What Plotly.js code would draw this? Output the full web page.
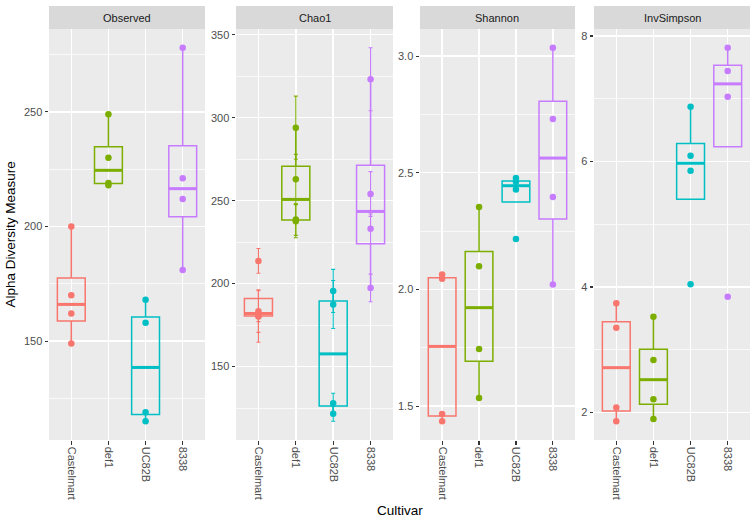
<!DOCTYPE html>
<html>
<head>
<meta charset="utf-8">
<script src="https://cdn.plot.ly/plotly-3.0.1.min.js"></script>
<style>html,body{margin:0;padding:0;background:#fff;}#chart{width:756px;height:521px;}</style>
</head>
<body>
<div id="chart"></div>
<script>
// ---- data ----
var cultivars = ['Castelmart', 'def1', 'UC82B', '8338'];
var measures = ['Observed', 'Chao1', 'Shannon', 'InvSimpson'];
var colors = ['#F8766D', '#7CAE00', '#00BFC4', '#C77CFF'];

var observed = [[149, 162, 170, 200], [218, 219, 230, 249], [115, 119, 158, 168], [181, 212, 221, 278]];
var chao1 = [[180.2, 180.6, 183.4, 213.7], [237.6, 238.6, 262.9, 294.0], [121.5, 127.9, 187.4, 195.6], [197.4, 233.0, 254.0, 323.2]];
var chao1Se = [[15.5, 3.5, 12.8, 7.5], [10, 9.5, 15, 19], [4.5, 6, 14.5, 13], [8.3, 9, 13.5, 19]];
var shannon = [[1.435, 1.466, 2.046, 2.064], [1.535, 1.745, 2.099, 2.353], [2.216, 2.428, 2.461, 2.478], [2.021, 2.396, 2.730, 3.036]];
var invSimpson = [[1.86, 2.08, 3.35, 3.74], [1.897, 2.21, 2.837, 3.527], [4.043, 5.853, 6.092, 6.873], [3.845, 7.033, 7.442, 7.814]];

var yTickStep = [50, 50, 0.5, 2];
var yTickFormat = ['d', 'd', '.1f', 'd'];

// ---- helpers ----
function quant(sorted, p) {
  var h = (sorted.length - 1) * p, lo = Math.floor(h), hi = Math.ceil(h);
  return sorted[lo] + (h - lo) * (sorted[hi] - sorted[lo]);
}
function stats(vals) {
  var s = vals.slice().sort(function (a, b) { return a - b; });
  var q1 = quant(s, 0.25), med = quant(s, 0.5), q3 = quant(s, 0.75), iqr = q3 - q1;
  var lf = Math.min.apply(null, s.filter(function (v) { return v >= q1 - 1.5 * iqr; }));
  var uf = Math.max.apply(null, s.filter(function (v) { return v <= q3 + 1.5 * iqr; }));
  lf = Math.min(lf, q1); uf = Math.max(uf, q3);
  return { q1: q1, med: med, q3: q3, lf: lf, uf: uf };
}

var W = 756, H = 521;
var panelPx = [[49, 205], [236, 393], [420, 575], [594, 750]];
var plotTop = 29, plotBot = 440, stripTop = 6;
var yDom = [1 - plotBot / H, 1 - plotTop / H];
var boxW = 0.75;

var datasets = [observed, chao1, shannon, invSimpson];
var traces = [];
var layout = {
  width: W, height: H,
  margin: { l: 0, r: 0, t: 0, b: 0 },
  paper_bgcolor: '#FFFFFF',
  plot_bgcolor: '#EBEBEB',
  showlegend: false,
  font: { family: 'Liberation Sans, Arial, sans-serif', color: '#4D4D4D', size: 11 },
  shapes: [], annotations: []
};

datasets.forEach(function (data, m) {
  var xa = 'x' + (m === 0 ? '' : (m + 1));
  var ya = 'y' + (m === 0 ? '' : (m + 1));
  var lo = Infinity, hi = -Infinity;
  data.forEach(function (vals, c) {
    var se = (m === 1) ? chao1Se[c] : null;
    vals.forEach(function (v, k) {
      var a = se ? v - se[k] : v, b = se ? v + se[k] : v;
      lo = Math.min(lo, a); hi = Math.max(hi, b);
    });
    var xs = vals.map(function () { return c + 1; });
    // points (with error bars for Chao1)
    var pt = {
      type: 'scatter', mode: 'markers', x: xs, y: vals, xaxis: xa, yaxis: ya,
      marker: { color: colors[c], size: 6.5 }, hoverinfo: 'y'
    };
    if (se) {
      pt.error_y = { type: 'data', array: se, visible: true, color: colors[c], thickness: 1.1, width: 2 };
    }
    traces.push(pt);
    var st = stats(vals);
    traces.push({
      type: 'box', x: [c + 1], q1: [st.q1], median: [st.med], q3: [st.q3],
      lowerfence: [st.lf], upperfence: [st.uf], width: boxW,
      xaxis: xa, yaxis: ya, boxpoints: false, whiskerwidth: 0,
      line: { color: colors[c], width: 1.5 }, fillcolor: 'rgba(0,0,0,0)', hoverinfo: 'skip'
    });
    traces.push({
      type: 'scatter', mode: 'lines', x: [c + 1 - boxW / 2, c + 1 + boxW / 2], y: [st.med, st.med],
      xaxis: xa, yaxis: ya, line: { color: colors[c], width: 3 }, hoverinfo: 'skip'
    });
  });
  var pad = (hi - lo) * 0.05;
  var d0 = panelPx[m][0] / W, d1 = panelPx[m][1] / W;
  layout['xaxis' + (m === 0 ? '' : (m + 1))] = {
    domain: [d0, d1], anchor: ya, range: [0.4, 4.6],
    tickmode: 'array', tickvals: [1, 2, 3, 4], ticktext: cultivars, tickangle: 90,
    ticks: 'outside', ticklen: 3.5, tickwidth: 1.1, tickcolor: '#333333',
    showgrid: true, gridcolor: '#FFFFFF', gridwidth: 1.4, zeroline: false, showline: false,
    tickfont: { size: 11, color: '#4D4D4D' }, fixedrange: true
  };
  layout['yaxis' + (m === 0 ? '' : (m + 1))] = {
    domain: yDom, anchor: xa, range: [lo - pad, hi + pad],
    tickmode: 'linear', tick0: 0, dtick: yTickStep[m], tickformat: yTickFormat[m],
    ticks: 'outside', ticklen: 3.5, tickwidth: 1.1, tickcolor: '#333333',
    showgrid: true, gridcolor: '#FFFFFF', gridwidth: 1.4, zeroline: false, showline: false,
    minor: { tick0: 0, dtick: yTickStep[m] / 2, showgrid: true, gridcolor: '#FFFFFF', gridwidth: 0.7, ticks: '' },
    tickfont: { size: 11, color: '#4D4D4D' }, fixedrange: true
  };
  // strip
  layout.shapes.push({
    type: 'rect', xref: 'paper', yref: 'paper', x0: d0, x1: d1,
    y0: 1 - plotTop / H, y1: 1 - stripTop / H, fillcolor: '#D9D9D9', line: { width: 0 }, layer: 'below'
  });
  layout.annotations.push({
    xref: 'paper', yref: 'paper', x: (d0 + d1) / 2, y: 1 - (plotTop + stripTop) / 2 / H,
    text: measures[m], showarrow: false, xanchor: 'center', yanchor: 'middle',
    font: { size: 11, color: '#1A1A1A' }
  });
});

layout.annotations.push({
  xref: 'paper', yref: 'paper', x: (panelPx[0][0] + panelPx[3][1]) / 2 / W, y: 1 - 510 / H,
  text: 'Cultivar', showarrow: false, xanchor: 'center', yanchor: 'middle',
  font: { size: 13.5, color: '#000000' }
});
layout.annotations.push({
  xref: 'paper', yref: 'paper', x: 10 / W, y: 1 - (plotTop + plotBot) / 2 / H,
  text: 'Alpha Diversity Measure', showarrow: false, textangle: -90, xanchor: 'center', yanchor: 'middle',
  font: { size: 13.5, color: '#000000' }
});

Plotly.newPlot('chart', traces, layout, { displayModeBar: false, staticPlot: true });
</script>
</body>
</html>
